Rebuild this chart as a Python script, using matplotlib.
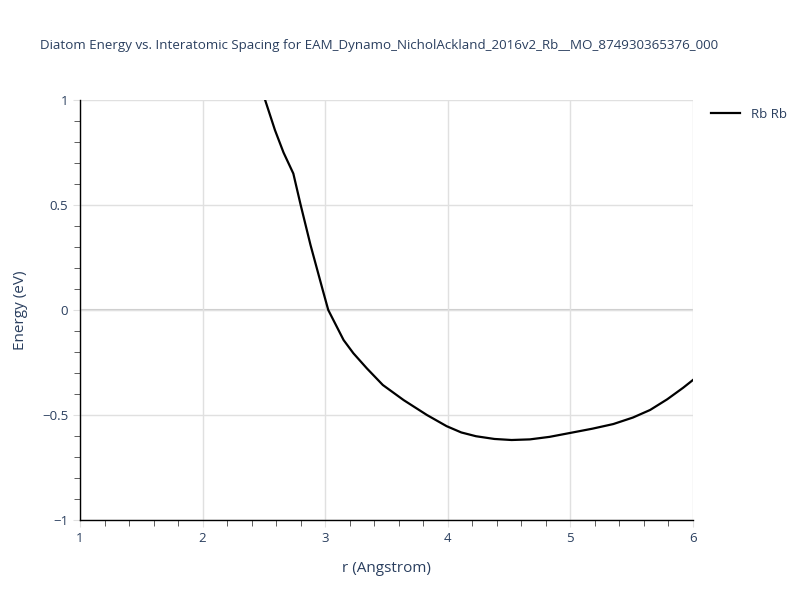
import matplotlib
matplotlib.use("Agg")
import matplotlib.pyplot as plt
from matplotlib.ticker import MultipleLocator

plt.rcParams['font.family'] = ['Open Sans', 'DejaVu Sans']

# diatom energy curve
r_vals = [2.51, 2.59, 2.66, 2.74, 2.80, 2.88, 2.98, 3.025, 3.08, 3.15, 3.23,
          3.34, 3.47, 3.64, 3.83, 3.99, 4.11, 4.23, 4.38, 4.52, 4.67, 4.83,
          5.01, 5.18, 5.35, 5.51, 5.65, 5.79, 5.92, 6.00]
energy = [1.0, 0.857, 0.75, 0.65, 0.5, 0.31, 0.095, 0.0, -0.063, -0.143,
          -0.206, -0.278, -0.357, -0.429, -0.5, -0.553, -0.583, -0.601,
          -0.614, -0.619, -0.616, -0.604, -0.584, -0.565, -0.543, -0.512,
          -0.476, -0.425, -0.37, -0.333]
series_name = "Rb Rb"
title = "Diatom Energy vs. Interatomic Spacing for EAM_Dynamo_NicholAckland_2016v2_Rb__MO_874930365376_000"

text_col = "#2a3f5f"
grid_col = "#e0e0e0"

fig = plt.figure(figsize=(8, 6), dpi=100)
ax = fig.add_axes([0.1, 0.1333, 0.76625, 0.7])

ax.plot(r_vals, energy, color="black", lw=1.6, label=series_name, zorder=3)

ax.set_xlim(1, 6)
ax.set_ylim(-1, 1)
ax.xaxis.set_major_locator(MultipleLocator(1))
ax.xaxis.set_minor_locator(MultipleLocator(0.2))
ax.yaxis.set_major_locator(MultipleLocator(0.5))
ax.yaxis.set_minor_locator(MultipleLocator(0.1))

ax.grid(True, which="major", color=grid_col, lw=1, zorder=0)
ax.axhline(0, color="#cccccc", lw=1.5, zorder=1)

for s in ["top", "right"]:
    ax.spines[s].set_visible(False)
for s in ["left", "bottom"]:
    ax.spines[s].set_color("black")
    ax.spines[s].set_linewidth(1)

ax.tick_params(which="major", length=5, color=grid_col, labelcolor=text_col,
               labelsize=9.5)
ax.tick_params(which="minor", length=4, color="#444444")

def fmt(v, pos):
    if abs(v - round(v)) < 1e-9:
        s = str(int(round(v)))
    else:
        s = f"{v:g}"
    return s.replace("-", "\u2212")

ax.yaxis.set_major_formatter(plt.FuncFormatter(fmt))
ax.xaxis.set_major_formatter(plt.FuncFormatter(fmt))

ax.set_xlabel("r (Angstrom)", color=text_col, fontsize=11, labelpad=12)
ax.set_ylabel("Energy (eV)", color=text_col, fontsize=11, labelpad=10)

fig.text(0.05, 0.925, title, color=text_col, fontsize=9.6, ha="left", va="center")

ax.legend(loc="upper left", bbox_to_anchor=(1.01, 1.01), frameon=False,
          fontsize=9.5, labelcolor=text_col, handlelength=2.2)

fig.savefig("out.png", dpi=100)
